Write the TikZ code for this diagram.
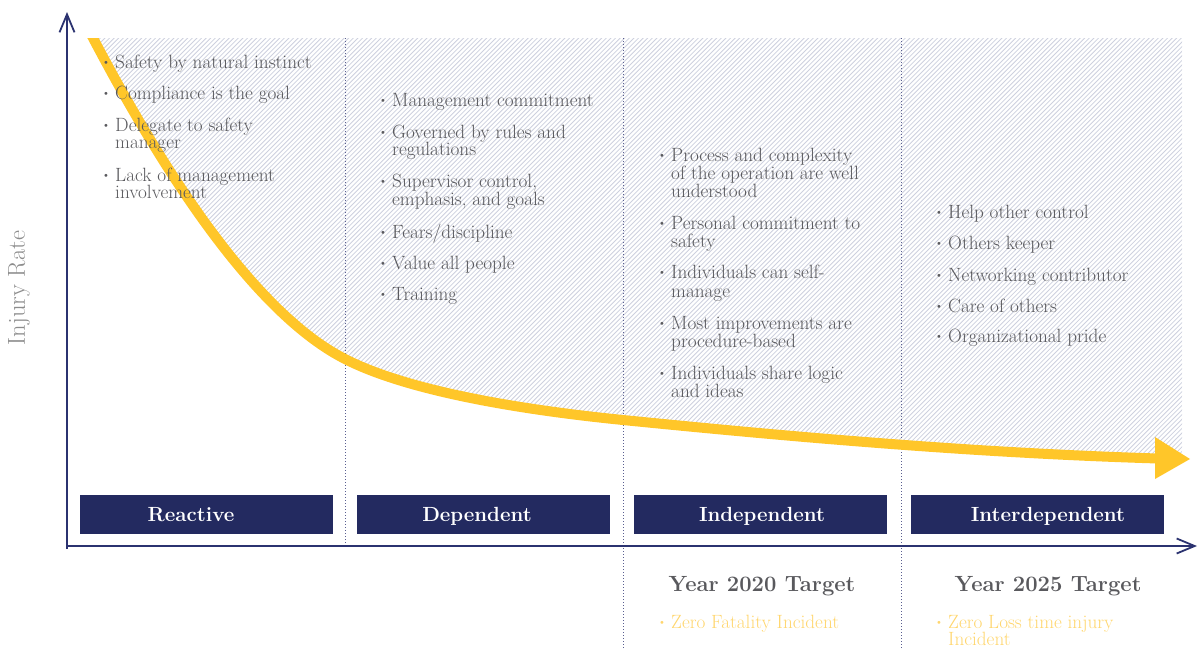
\documentclass[tikz,border=0pt]{standalone}
\usetikzlibrary{arrows.meta}
\definecolor{navy}{HTML}{232A60}
\definecolor{axisc}{HTML}{2B3270}
\definecolor{curvec}{HTML}{FFC629}
\definecolor{hatchc}{HTML}{CDD0DE}
\definecolor{txtgray}{HTML}{59595D}
\definecolor{lightyel}{HTML}{FFD66E}
\definecolor{labgray}{HTML}{8C8C8C}
\definecolor{dotc}{HTML}{5A5F90}
\newcommand\bul{\llap{\raisebox{0.3ex}{\fontsize{11}{11}\selectfont\textbullet}\hspace{5pt}}}
\newcommand\curvepath{(87,27) -- (93,38) .. controls (173,190) and (262,318) .. (347,360) .. controls (407,390) and (513,409) .. (623,420) .. controls (803,438) and (978,453) .. (1158,458.5)}
\begin{document}
\begin{tikzpicture}[x=1pt,y=-1pt,
  item/.style={anchor=base west, inner sep=0pt, text=txtgray, text height=12.5pt, text depth=3pt, font=\fontsize{19.2}{20}\selectfont},
  boxst/.style={fill=navy, draw=none, minimum width=253pt, minimum height=39pt, inner sep=0pt},
  boxlab/.style={anchor=base, inner sep=0pt, text=white, font=\fontsize{20.5}{20.5}\selectfont\bfseries},
  yearlab/.style={anchor=base, inner sep=0pt, text=txtgray, font=\fontsize{22}{22}\selectfont\bfseries},
  dotline/.style={dotc, line width=0.9pt, dash pattern=on 0.9pt off 2.1pt},
  axisline/.style={axisc, line width=2.2pt, -{Straight Barb[length=18pt,width=15pt,line width=1.8pt]}}]
\useasboundingbox (0,0) rectangle (1200,648);

% hatched area and curve
\begin{scope}
  \clip (0,38) rectangle (1200,648);
  \begin{scope}
    \clip \curvepath -- (1182,456) -- (1182,38) -- (87,27) -- cycle;
    \foreach \k in {-380,-375.4,...,1195} \draw[hatchc, line width=0.8pt] (\k,500) -- ++(500,-500);
  \end{scope}
  % dotted separators
  \draw[dotline] (345,38) -- (345,546);
  \draw[dotline] (623,38) -- (623,648);
  \draw[dotline] (901,38) -- (901,648);
  \draw[curvec, line width=10pt] \curvepath;
\end{scope}
\coordinate (hA) at (1155,437);
\coordinate (hB) at (1190,459);
\coordinate (hC) at (1155,479);
\fill[curvec] (hA) -- (hB) -- (hC) -- cycle;

% axes
\coordinate (O) at (67,546);
\coordinate (Oy) at (67,549);
\coordinate (Ytop) at (67,12);
\coordinate (Xend) at (1197,546);
\draw[axisline] (Oy) -- (Ytop);
\draw[axisline] (O) -- (Xend);

% axis label
\node[rotate=90, text=labgray, font=\fontsize{24.5}{24.5}\selectfont, inner sep=0pt] (ylab) at (19,288) {Injury Rate};

% stage boxes
\node[boxst] (b1) at (206.5,514.5) {};
\node[boxst] (b2) at (483.5,514.5) {};
\node[boxst] (b3) at (760.5,514.5) {};
\node[boxst] (b4) at (1037.5,514.5) {};
\node[boxlab] (l1) at (191,521) {Reactive};
\node[boxlab] (l2) at (477,521) {Dependent};
\node[boxlab] (l3) at (762,521) {Independent};
\node[boxlab] (l4) at (1048,521) {Interdependent};

% column 1
\node[item] (c1a) at (115,68) {\bul Safety by natural instinct};
\node[item] (c1b) at (115,99) {\bul Compliance is the goal};
\node[item] (c1c) at (115,131) {\bul Delegate to safety};
\node[item] (c1d) at (115,148) {manager};
\node[item] (c1e) at (115,181) {\bul Lack of management};
\node[item] (c1f) at (115,198) {involvement};

% column 2
\node[item] (c2a) at (392,106) {\bul Management commitment};
\node[item] (c2b) at (392,138) {\bul Governed by rules and};
\node[item] (c2c) at (392,155) {regulations};
\node[item] (c2d) at (392,187) {\bul Supervisor control,};
\node[item] (c2e) at (392,205) {emphasis, and goals};
\node[item] (c2f) at (392,238) {\bul Fears/discipline};
\node[item] (c2g) at (392,269) {\bul Value all people};
\node[item] (c2h) at (392,300) {\bul Training};

% column 3
\node[item] (c3a) at (671,161) {\bul Process and complexity};
\node[item] (c3b) at (671,179) {of the operation are well};
\node[item] (c3c) at (671,197) {understood};
\node[item] (c3d) at (671,229) {\bul Personal commitment to};
\node[item] (c3e) at (671,247) {safety};
\node[item] (c3f) at (671,278) {\bul Individuals can self-};
\node[item] (c3g) at (671,297) {manage};
\node[item] (c3h) at (671,329) {\bul Most improvements are};
\node[item] (c3i) at (671,347) {procedure-based};
\node[item] (c3j) at (671,379) {\bul Individuals share logic};
\node[item] (c3k) at (671,397) {and ideas};

% column 4
\node[item] (c4a) at (948,218) {\bul Help other control};
\node[item] (c4b) at (948,249) {\bul Others keeper};
\node[item] (c4c) at (948,281) {\bul Networking contributor};
\node[item] (c4d) at (948,312) {\bul Care of others};
\node[item] (c4e) at (948,342) {\bul Organizational pride};

% targets
\node[yearlab] (y1) at (762,591) {Year 2020 Target};
\node[yearlab] (y2) at (1048,591) {Year 2025 Target};
\node[item, text=lightyel] (t1) at (671,628) {\bul Zero Fatality Incident};
\node[item, text=lightyel, text depth=2pt] (t2) at (948,628) {\bul Zero Loss time injury};
\node[item, text=lightyel, text depth=1pt] (t3) at (948,645.5) {Incident};
\end{tikzpicture}
\end{document}
